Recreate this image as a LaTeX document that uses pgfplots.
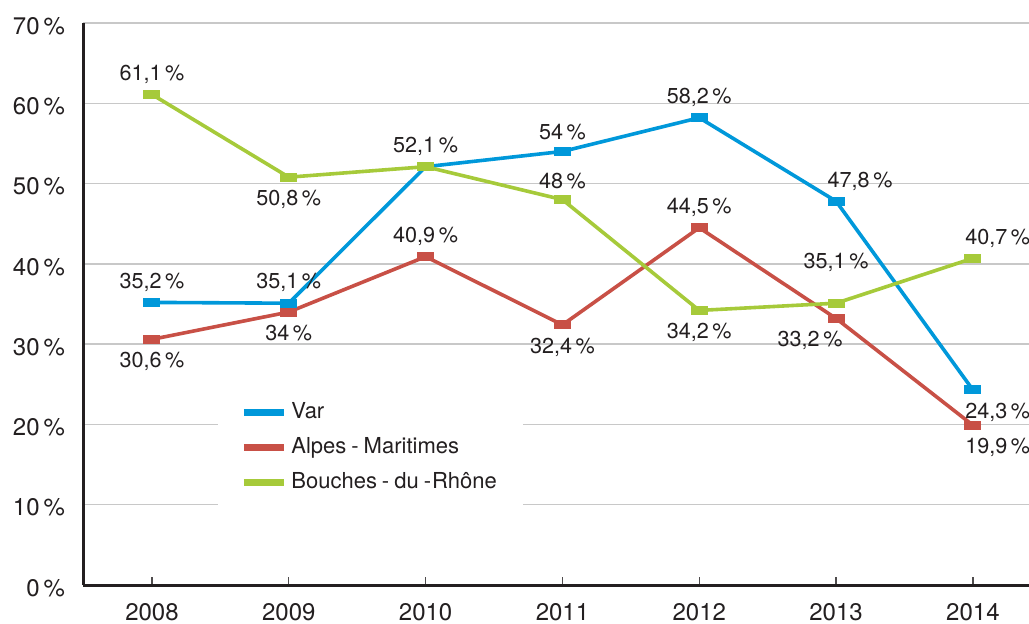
\documentclass[border=0pt]{standalone}
\usepackage{pgfplots}
\pgfplotsset{compat=1.18}
\usepackage{fontspec}
\setmainfont{TeX Gyre Heros}
\definecolor{cvar}{RGB}{0,152,218}
\definecolor{calp}{RGB}{200,80,70}
\definecolor{cbdr}{RGB}{166,202,58}
\definecolor{axc}{RGB}{35,31,32}
\definecolor{gridc}{RGB}{200,200,200}
\pgfplotsset{
  ser/.style={line width=1.8pt, mark=square*, mark size=2pt, mark options={xscale=2, line width=0pt, solid}},
  lab/.style={forget plot, draw=none, mark=none, point meta=y,
    nodes near coords={\pgfmathprintnumber[fixed, precision=1, use comma]{\pgfplotspointmeta}\,\%},
    nodes near coords style={font=\fontsize{10.8}{12}\selectfont, text=axc}},
  above/.style={lab, nodes near coords style={anchor=south, yshift=2pt}},
  below/.style={lab, nodes near coords style={anchor=north, yshift=-3pt}},
}
\begin{document}
\begin{tikzpicture}
\begin{axis}[
  name=ax,
  scale only axis, width=473pt, height=281pt,
  xmin=-0.504, xmax=6.41, ymin=0, ymax=70,
  axis x line*=bottom, axis y line*=left,
  axis line style={draw=axc, line width=1.5pt},
  xtick={0,...,6}, xticklabels={2008,2009,2010,2011,2012,2013,2014},
  ytick={0,10,...,70},
  yticklabel={\pgfmathprintnumber{\tick}\,\%},
  tick align=inside,
  major tick length=4pt,
  xtick style={draw=axc!80, line width=0.6pt},
  ytick style={draw=none},
  ymajorgrids, grid style={draw=gridc, line width=0.7pt},
  tick label style={font=\fontsize{12}{14}\selectfont, text=axc},
  yticklabel style={xshift=-5.5pt, yshift=-1.5pt},
  xticklabel style={yshift=-5.5pt},
  /pgf/number format/assume math mode=true,
  clip=false,
  legend style={at={(rel axis cs:0.1427,0.245)}, anchor=west, draw=none, fill=white,
    font=\fontsize{11}{13}\selectfont, text=axc, inner xsep=11pt, inner ysep=6pt, row sep=4pt},
  legend cell align=left,
  legend image code/.code={\draw[line width=3.5pt] (0pt,0pt) -- (20pt,0pt);},
]
\addplot[ser, cvar] coordinates {(0,35.2) (1,35.1) (2,52.1) (3,54) (4,58.2) (5,47.8) (6,24.3)};
\addlegendentry{Var}
\addplot[ser, calp] coordinates {(0,30.6) (1,34) (2,40.9) (3,32.4) (4,44.5) (5,33.2) (6,19.9)};
\addlegendentry{Alpes\kern2.5pt-\kern2.5pt Maritimes}
\addplot[ser, cbdr] coordinates {(0,61.1) (1,50.8) (2,52.1) (3,48) (4,34.2) (5,35.1) (6,40.7)};
\addlegendentry{Bouches\kern2.5pt-\kern2.5pt du\kern2.5pt-\kern0.5pt Rhône}
% labels above
\addplot[above] coordinates {(0,35.2) (1,35.1) (2,52.1) (3,54) (4,58.2) (2,40.9) (4,44.5) (0,61.1) (3,48)};
\addplot[above, nodes near coords style={anchor=south west, inner xsep=0pt, xshift=-4pt}] coordinates {(6,40.7)};
\addplot[above, nodes near coords style={yshift=10pt}] coordinates {(5,35.1)};
\addplot[above, nodes near coords style={xshift=12pt}] coordinates {(5,47.8)};
% labels below
\addplot[below] coordinates {(0,30.6) (1,34) (3,32.4) (1,50.8) (4,34.2)};
\addplot[below, nodes near coords style={xshift=-13pt}] coordinates {(5,33.2)};
\addplot[below, nodes near coords style={anchor=north west, inner xsep=0pt, xshift=-4pt}] coordinates {(6,24.3) (6,19.9)};
\end{axis}
\pgfresetboundingbox
\useasboundingbox ([xshift=-41.5pt,yshift=-19pt]ax.south west) rectangle ([yshift=11.5pt]ax.north east);
\end{tikzpicture}
\end{document}
